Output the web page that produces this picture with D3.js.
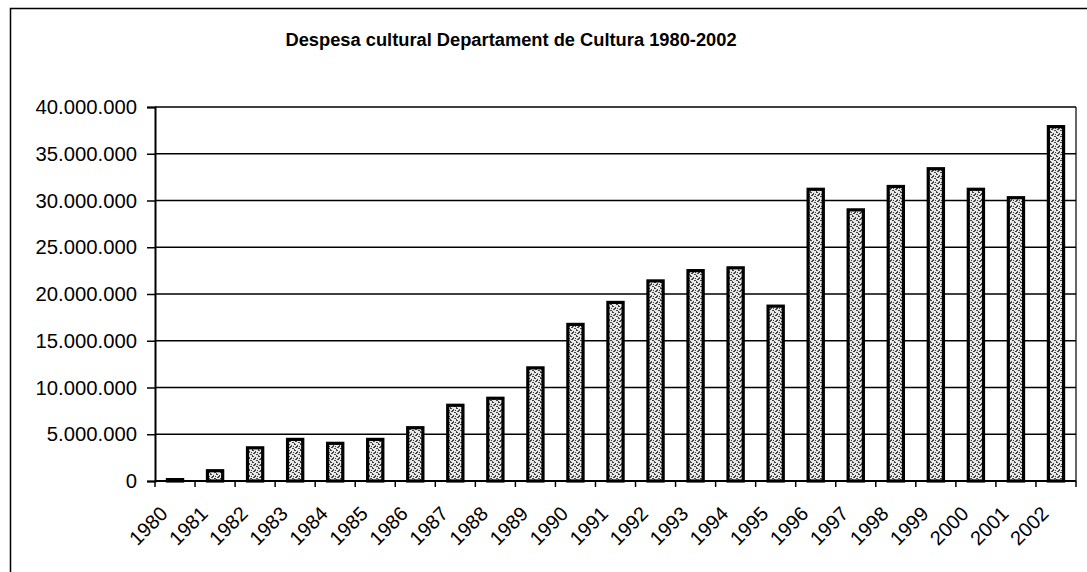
<!DOCTYPE html>
<html>
<head>
<meta charset="utf-8">
<script src="https://cdn.jsdelivr.net/npm/d3@7"></script>
<style>
  body { margin: 0; background: #fff; }
  svg { display: block; font-family: "Liberation Sans", Arial, sans-serif; }
</style>
</head>
<body>
<svg id="chart" width="1087" height="572"></svg>
<script>
// data
let years = ["1980","1981","1982","1983","1984","1985","1986","1987","1988","1989","1990",
             "1991","1992","1993","1994","1995","1996","1997","1998","1999","2000","2001","2002"];
let despesa = [150000, 1100000, 3550000, 4450000, 4030000, 4450000, 5700000, 8100000, 8850000,
               12100000, 16750000, 19100000, 21400000, 22500000, 22800000, 18700000, 31200000,
               29000000, 31500000, 33400000, 31200000, 30300000, 37900000];
let yTicks = [0, 5000000, 10000000, 15000000, 20000000, 25000000, 30000000, 35000000, 40000000];
let title = "Despesa cultural Departament de Cultura 1980-2002";

let chart = d3.select("#chart");
let plotLeft = 155, plotRight = 1076, plotTop = 107, plotBottom = 481;

// speckled fill like the scanned bars
let defs = chart.append("defs");
let pat = defs.append("pattern")
    .attr("id", "speckle")
    .attr("width", 6).attr("height", 6)
    .attr("patternUnits", "userSpaceOnUse");
pat.append("rect").attr("width", 6).attr("height", 6).attr("fill", "#e8e8e8");
[[0,0,2,1],[3,1,1,2],[1,3,2,1],[4,4,2,1],[0,5,1,1],[2,2,1,1],[5,2,1,1]].forEach(function(r) {
    pat.append("rect").attr("x", r[0]).attr("y", r[1]).attr("width", r[2]).attr("height", r[3])
        .attr("fill", "#444");
});

// outer frame
chart.append("path")
    .attr("d", "M10.5,572 V8.5 H1087")
    .attr("fill", "none")
    .attr("stroke", "#000")
    .attr("stroke-width", 1.5);

// title
chart.append("text")
    .text(title)
    .attr("x", 511)
    .attr("y", 46)
    .attr("text-anchor", "middle")
    .style("font-size", "18.3px")
    .style("font-weight", "bold");

let x = d3.scaleBand()
    .domain(years)
    .range([plotLeft, plotRight])
    .paddingInner(0.62)
    .paddingOuter(0.31);

let y = d3.scaleLinear()
    .domain([0, 40000000])
    .range([plotBottom, plotTop]);

let fmt = function(v) { return d3.format(",")(v).replace(/,/g, "."); };

// grid lines
chart.append("g")
    .selectAll("line")
    .data(yTicks.slice(1))
    .enter()
    .append("line")
    .attr("x1", plotLeft).attr("x2", plotRight)
    .attr("y1", function(d) { return y(d); })
    .attr("y2", function(d) { return y(d); })
    .attr("stroke", "#000")
    .attr("stroke-width", 1.6);

// right border of plot area
chart.append("line")
    .attr("x1", plotRight).attr("x2", plotRight)
    .attr("y1", plotTop).attr("y2", plotBottom)
    .attr("stroke", "#000")
    .attr("stroke-width", 1.2);

// bars
chart.selectAll("rect.bar")
    .data(years)
    .enter()
    .append("rect")
    .attr("class", "bar")
    .attr("x", function(d) { return x(d); })
    .attr("y", function(d, i) { return y(despesa[i]); })
    .attr("width", x.bandwidth())
    .attr("height", function(d, i) { return plotBottom - y(despesa[i]); })
    .attr("fill", "url(#speckle)")
    .attr("stroke", "#000")
    .attr("stroke-width", 3.2);

// y axis
let yAxis = d3.axisLeft(y)
    .tickValues(yTicks)
    .tickSize(8)
    .tickPadding(10)
    .tickFormat(fmt);
let yAxisGroup = chart.append("g")
    .attr("transform", "translate(" + plotLeft + ",0)")
    .call(yAxis);
yAxisGroup.select(".domain").attr("stroke-width", 2);
yAxisGroup.selectAll(".tick line").attr("stroke-width", 1.5);
yAxisGroup.selectAll("text")
    .style("font-size", "20.3px")
    .style("font-family", "Liberation Sans, Arial, sans-serif")
    .attr("fill", "#000");

// x axis: ticks sit between the categories, like Excel
let step = x.step();
let edges = years.map(function(d) { return x(d) + x.bandwidth() / 2 - step / 2; });
edges.push(plotRight);
chart.append("line")
    .attr("x1", plotLeft).attr("x2", plotRight)
    .attr("y1", plotBottom).attr("y2", plotBottom)
    .attr("stroke", "#000")
    .attr("stroke-width", 2);
chart.append("g")
    .selectAll("line")
    .data(edges)
    .enter()
    .append("line")
    .attr("x1", function(d) { return d; })
    .attr("x2", function(d) { return d; })
    .attr("y1", plotBottom)
    .attr("y2", plotBottom + 6)
    .attr("stroke", "#000")
    .attr("stroke-width", 1.5);

// x labels, rotated
chart.append("g")
    .selectAll("text")
    .data(years)
    .enter()
    .append("text")
    .text(function(d) { return d; })
    .attr("text-anchor", "end")
    .attr("transform", function(d) {
        let cx = x(d) + x.bandwidth() / 2 - 11;
        return "translate(" + cx + "," + (plotBottom + 29) + ") rotate(-45)";
    })
    .attr("dy", "0.35em")
    .style("font-size", "20px");
</script>
</body>
</html>
